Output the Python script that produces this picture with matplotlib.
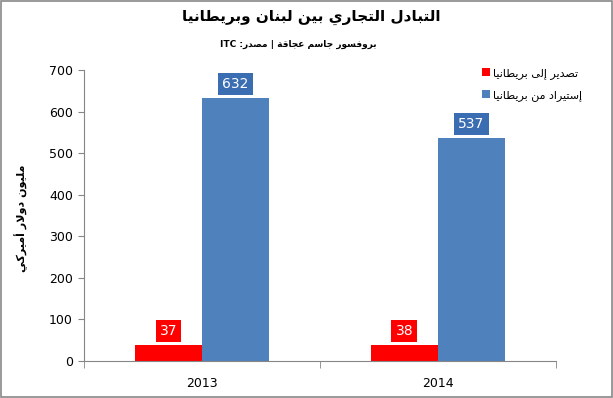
import matplotlib.pyplot as plt
import numpy as np

# data
years = ['2013', '2014']
exports = [37, 38]
imports = [632, 537]
series_names = ['تصدير إلى بريطانيا', 'إستيراد من بريطانيا']
title = 'التبادل التجاري بين لبنان وبريطانيا'
subtitle = 'بروفسور جاسم عجاقة | مصدر:'
source = 'ITC'
ylabel = 'مليون دولار أميركي'
yticks = [0, 100, 200, 300, 400, 500, 600, 700]

# arabic presentation forms: iso, fin, ini, med
FORMS = {
    'ا': (0xFE8D, 0xFE8E, None, None), 'أ': (0xFE83, 0xFE84, None, None),
    'إ': (0xFE87, 0xFE88, None, None), 'ب': (0xFE8F, 0xFE90, 0xFE91, 0xFE92),
    'ة': (0xFE93, 0xFE94, None, None), 'ت': (0xFE95, 0xFE96, 0xFE97, 0xFE98),
    'ج': (0xFE9D, 0xFE9E, 0xFE9F, 0xFEA0), 'د': (0xFEA9, 0xFEAA, None, None),
    'ر': (0xFEAD, 0xFEAE, None, None), 'س': (0xFEB1, 0xFEB2, 0xFEB3, 0xFEB4),
    'ص': (0xFEB9, 0xFEBA, 0xFEBB, 0xFEBC), 'ط': (0xFEC1, 0xFEC2, 0xFEC3, 0xFEC4),
    'ع': (0xFEC9, 0xFECA, 0xFECB, 0xFECC), 'ف': (0xFED1, 0xFED2, 0xFED3, 0xFED4),
    'ق': (0xFED5, 0xFED6, 0xFED7, 0xFED8), 'ك': (0xFED9, 0xFEDA, 0xFEDB, 0xFEDC),
    'ل': (0xFEDD, 0xFEDE, 0xFEDF, 0xFEE0), 'م': (0xFEE1, 0xFEE2, 0xFEE3, 0xFEE4),
    'ن': (0xFEE5, 0xFEE6, 0xFEE7, 0xFEE8), 'و': (0xFEED, 0xFEEE, None, None),
    'ى': (0xFEEF, 0xFEF0, None, None), 'ي': (0xFEF1, 0xFEF2, 0xFEF3, 0xFEF4),
    'لا': (0xFEFB, 0xFEFC, None, None), 'لأ': (0xFEF7, 0xFEF8, None, None),
    'لإ': (0xFEF9, 0xFEFA, None, None),
}


def shape(text):
    # split into tokens, lam-alef as one token
    toks = []
    i = 0
    while i < len(text):
        if text[i] == 'ل' and i + 1 < len(text) and text[i + 1] in 'اأإ':
            toks.append(text[i:i + 2])
            i += 2
        else:
            toks.append(text[i])
            i += 1
    out = []
    for k, t in enumerate(toks):
        if t not in FORMS:
            out.append(t)
            continue
        f = FORMS[t]
        prev = toks[k - 1] if k > 0 else None
        nxt = toks[k + 1] if k + 1 < len(toks) else None
        jp = prev in FORMS and FORMS[prev][2] is not None
        jn = f[2] is not None and nxt in FORMS
        if jp and jn:
            c = f[3]
        elif jp:
            c = f[1]
        elif jn:
            c = f[2]
        else:
            c = f[0]
        out.append(chr(c))
    return ''.join(reversed(out))


plt.rcParams['font.family'] = ['DejaVu Sans']

fig = plt.figure(figsize=(6.13, 3.98), dpi=100)
ax = fig.add_axes([0.137, 0.094, 0.770, 0.730])

x = np.arange(len(years))
w = 0.284
red = '#ff0000'
blue = '#4f81bd'
b1 = ax.bar(x - w / 2, exports, w, color=red, label=shape(series_names[0]))
b2 = ax.bar(x + w / 2, imports, w, color=blue, label=shape(series_names[1]))

for bars, vals, col in [(b1, exports, red), (b2, imports, '#3b6db3')]:
    for b, v in zip(bars, vals):
        ax.annotate(str(v), (b.get_x() + b.get_width() / 2, v),
                    xytext=(0, 5), textcoords='offset points',
                    ha='center', va='bottom', color='white', fontsize=10,
                    bbox=dict(boxstyle='square,pad=0.3', fc=col, ec='none'))

ax.set_xlim(-0.5, 1.5)
ax.set_ylim(0, 700)
ax.set_yticks(yticks)
ax.set_xticks(x)
ax.set_xticklabels(years)
ax.set_xticks([-0.5, 0.5, 1.5], minor=True)
ax.tick_params(axis='x', which='major', length=0, pad=12, labelsize=9)
ax.tick_params(axis='x', which='minor', length=5, color='#868686')
ax.tick_params(axis='y', length=4, color='#868686', labelsize=9, pad=4)
for s in ['top', 'right']:
    ax.spines[s].set_visible(False)
for s in ['left', 'bottom']:
    ax.spines[s].set_color('#868686')

fig.text(0.035, 0.452, shape(ylabel), rotation=90, ha='center', va='center',
         fontsize=8, fontweight='bold')
fig.text(0.508, 0.955, shape(title), ha='center', va='center',
         fontsize=11, fontweight='bold')
fig.text(0.487, 0.888, source + ' ' + shape(subtitle), ha='center', va='center',
         fontsize=6.5, fontweight='bold')

ax.legend(loc='upper left', bbox_to_anchor=(0.77, 0.855), bbox_transform=fig.transFigure,
          frameon=False, fontsize=8, handlelength=0.7, handleheight=0.7,
          handletextpad=0.3, labelspacing=1.0)

# gray frame around the chart
fig.patches.append(plt.Rectangle((0.002, 0.003), 0.996, 0.994, transform=fig.transFigure,
                                 fill=False, ec='#888888', lw=1.2))

fig.savefig('out.png', dpi=100)
